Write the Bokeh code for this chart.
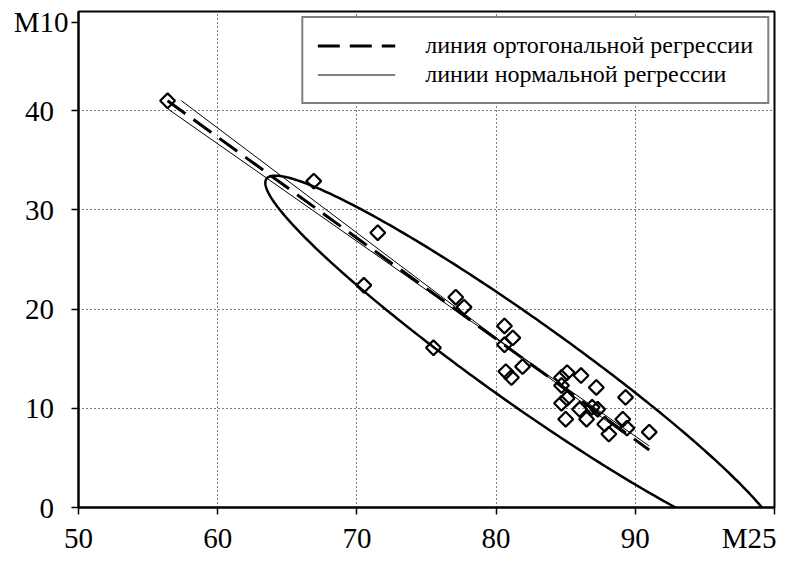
import numpy as np
from bokeh.plotting import figure
from bokeh.models import Range1d, FixedTicker, Legend, LegendItem
from bokeh.embed import file_html
from bokeh.resources import INLINE

# ---- data ----
m25 = [56.4, 66.9, 71.5, 70.5, 77.1, 77.7, 75.5, 80.6, 81.2, 80.6, 81.9, 80.7, 81.1,
       85.1, 84.7, 86.1, 84.7, 87.2, 89.3, 85.1, 84.7, 86.0, 86.9, 87.3, 86.5, 85.0,
       87.8, 89.1, 89.4, 88.1, 91.0]
m10 = [41.0, 32.9, 27.7, 22.4, 21.2, 20.2, 16.1, 18.3, 17.1, 16.4, 14.2, 13.7, 13.1,
       13.6, 13.1, 13.3, 12.3, 12.1, 11.1, 11.0, 10.5, 9.9, 10.1, 9.9, 8.9, 8.9,
       8.4, 8.9, 8.0, 7.4, 7.6]

# regression lines (end points)
ortho_x = [56.4, 91.0]
ortho_y = [41.0, 5.8]
reg_yx_x = [56.4, 91.0]          # M10 on M25
reg_yx_y = [40.2, 6.2]
reg_xy_x = [57.4, 89.1]          # M25 on M10
reg_xy_y = [41.0, 7.5]

# dispersion ellipse parameters
ell_cx, ell_cy = 81.9, 14.8
ell_a, ell_b = 26.0, 3.66
ell_angle_deg = -45.28

x_ticks = [50, 60, 70, 80, 90]
y_ticks = [0, 10, 20, 30, 40]
x_name, x_name_pos = "M25", 100
y_name, y_name_pos = "M10", 48.9
legend_labels = ["линия ортогональной регрессии", "линии нормальной регрессии"]

FONT = "'Liberation Serif', 'Times New Roman', 'DejaVu Serif', serif"
NB = "\u00a0"

p = figure(width=776, height=556, x_range=Range1d(50, 100), y_range=Range1d(0, 50),
           output_backend="svg", toolbar_location=None,
           min_border_left=78, min_border_right=2, min_border_top=11, min_border_bottom=48,
           background_fill_color="white", border_fill_color="white")

p.outline_line_color = "black"
p.outline_line_width = 2

for ax in (p.xaxis[0], p.yaxis[0]):
    ax.axis_line_width = 2
    ax.axis_line_color = "black"
    ax.major_tick_out = 7
    ax.major_tick_in = 0
    ax.major_tick_line_width = 1.5
    ax.major_tick_line_color = "black"
    ax.minor_tick_line_color = None
    ax.major_label_text_font = FONT
    ax.major_label_text_font_size = "29px"
    ax.major_label_text_color = "black"

# x axis: numeric ticks plus the variable name at the right end
p.xaxis.ticker = FixedTicker(ticks=x_ticks + [x_name_pos])
p.xaxis.major_label_overrides = {x_name_pos: x_name}
p.xaxis.major_label_standoff = 7

# y axis: numeric ticks plus the variable name at the top
p.yaxis.ticker = FixedTicker(ticks=y_ticks + [y_name_pos])
y_over = {v: f"{v}" + NB * 2 for v in y_ticks}
y_over[y_name_pos] = y_name
p.yaxis.major_label_overrides = y_over
p.yaxis.major_label_standoff = 3

p.xgrid.ticker = FixedTicker(ticks=x_ticks[1:])
p.ygrid.ticker = FixedTicker(ticks=y_ticks[1:])
for g in (p.xgrid[0], p.ygrid[0]):
    g.grid_line_color = "black"
    g.grid_line_dash = "1 3"
    g.grid_line_width = 1

# ellipse outline
t = np.linspace(0, 2 * np.pi, 400)
th = np.deg2rad(ell_angle_deg)
ex = ell_cx + ell_a * np.cos(t) * np.cos(th) - ell_b * np.sin(t) * np.sin(th)
ey = ell_cy + ell_a * np.cos(t) * np.sin(th) + ell_b * np.sin(t) * np.cos(th)
p.line(ex, ey, line_color="black", line_width=2.5)

r_norm1 = p.line(reg_yx_x, reg_yx_y, line_color="black", line_width=1)
r_norm2 = p.line(reg_xy_x, reg_xy_y, line_color="black", line_width=1)
r_ortho = p.line(ortho_x, ortho_y, line_color="black", line_width=3, line_dash="22 10")

p.scatter(m25, m10, marker="square", angle=np.pi / 4, size=10.5,
          fill_color="white", fill_alpha=0.0, line_color="black", line_width=2.2)

legend = Legend(items=[LegendItem(label=legend_labels[0], renderers=[r_ortho]),
                       LegendItem(label=legend_labels[1], renderers=[r_norm1])],
                location="top_right")
legend.border_line_color = "black"
legend.border_line_width = 2
legend.background_fill_color = "white"
legend.background_fill_alpha = 1
legend.label_text_font = FONT
legend.label_text_font_size = "24px"
legend.label_text_color = "black"
legend.glyph_width = 78
legend.glyph_height = 27
legend.label_height = 27
legend.label_standoff = 30
legend.padding = 14
legend.spacing = 2
legend.margin = 5
p.add_layout(legend, "center")

open("out.html", "w").write(file_html(p, INLINE))
